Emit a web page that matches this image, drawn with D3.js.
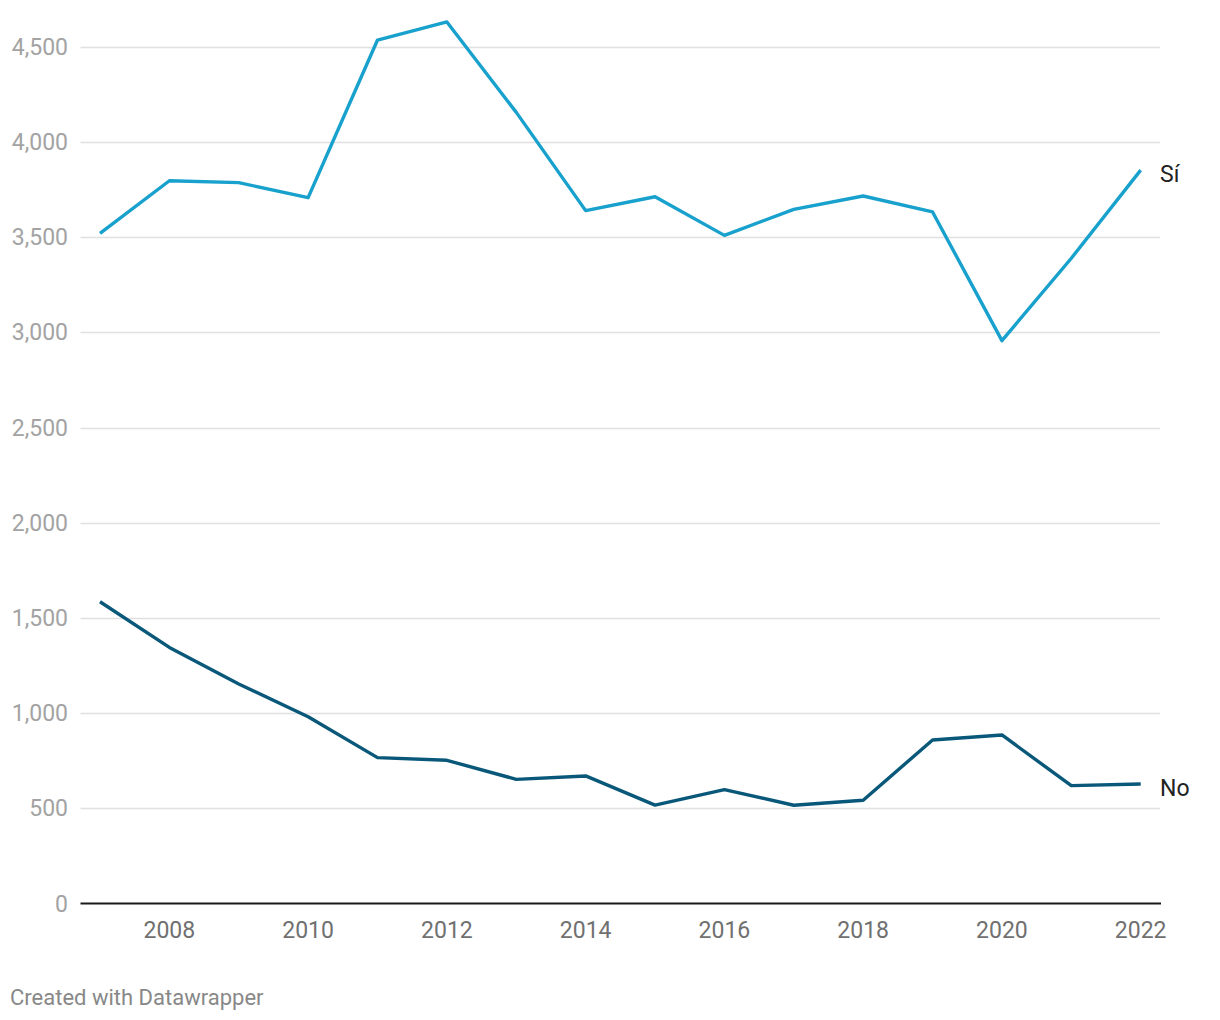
<!DOCTYPE html>
<html>
<head>
<meta charset="utf-8">
<script src="https://cdn.jsdelivr.net/npm/d3@7"></script>
<style>
  html, body { margin: 0; padding: 0; background: #fff; }
  svg { display: block; font-family: Roboto, "Noto Sans", sans-serif; }
</style>
</head>
<body>
<svg id="chart" width="1220" height="1020"></svg>
<script>
const years = [2007, 2008, 2009, 2010, 2011, 2012, 2013, 2014, 2015, 2016, 2017, 2018, 2019, 2020, 2021, 2022];
const siValues = [3520, 3796, 3786, 3707, 4535, 4630, 4155, 3639, 3712, 3509, 3646, 3716, 3632, 2956, 3389, 3852];
const noValues = [1585, 1345, 1153, 981, 766, 752, 652, 670, 517, 598, 516, 542, 859, 885, 619, 628];
const yTicks = [0, 500, 1000, 1500, 2000, 2500, 3000, 3500, 4000, 4500];
const xTicks = [2008, 2010, 2012, 2014, 2016, 2018, 2020, 2022];
const seriesNames = ["Sí", "No"];
const footerText = "Created with Datawrapper";

const svg = d3.select("#chart");
const left = 80.5, right = 1160;
const x = d3.scaleLinear().domain([2007, 2022]).range([100, 1140.7]);
const y = d3.scaleLinear().domain([0, 4500]).range([903.5, 46.7]);

// gridlines
svg.append("g").selectAll("line").data(yTicks.filter(d => d > 0)).join("line")
  .attr("x1", left).attr("x2", right)
  .attr("y1", d => Math.round(y(d)) + 0.5).attr("y2", d => Math.round(y(d)) + 0.5)
  .attr("stroke", "#e0e0e0").attr("stroke-width", 1.4);

// y labels
svg.append("g").selectAll("text").data(yTicks).join("text")
  .attr("x", 68).attr("y", d => y(d))
  .attr("dy", "0.35em")
  .attr("text-anchor", "end")
  .attr("fill", "#a3a3a3")
  .attr("font-size", 23)
  .text(d => d3.format(",")(d));

// baseline
svg.append("line")
  .attr("x1", left).attr("x2", right + 1)
  .attr("y1", y(0)).attr("y2", y(0))
  .attr("stroke", "#1a1a1a").attr("stroke-width", 2);

// x labels
svg.append("g").selectAll("text").data(xTicks).join("text")
  .attr("x", d => x(d)).attr("y", 930)
  .attr("dy", "0.35em")
  .attr("text-anchor", "middle")
  .attr("fill", "#707070")
  .attr("font-size", 23)
  .text(d => d);

const line = d3.line().x((d, i) => x(years[i])).y(d => y(d));
const series = [
  { name: seriesNames[0], values: siValues, color: "#18a1cd" },
  { name: seriesNames[1], values: noValues, color: "#09587a" }
];

svg.append("g").selectAll("path").data(series).join("path")
  .attr("d", d => line(d.values))
  .attr("fill", "none")
  .attr("stroke", d => d.color)
  .attr("stroke-width", 3.4)
  .attr("stroke-linejoin", "round");

// series labels
svg.append("g").selectAll("text").data(series).join("text")
  .attr("x", 1160)
  .attr("y", d => y(d.values[d.values.length - 1]) + 4)
  .attr("dy", "0.35em")
  .attr("fill", "#222")
  .attr("font-size", 23)
  .text(d => d.name);

// footer
svg.append("text")
  .attr("x", 10).attr("y", 997)
  .attr("dy", "0.35em")
  .attr("fill", "#888")
  .attr("font-size", 22)
  .text(footerText);
</script>
</body>
</html>
